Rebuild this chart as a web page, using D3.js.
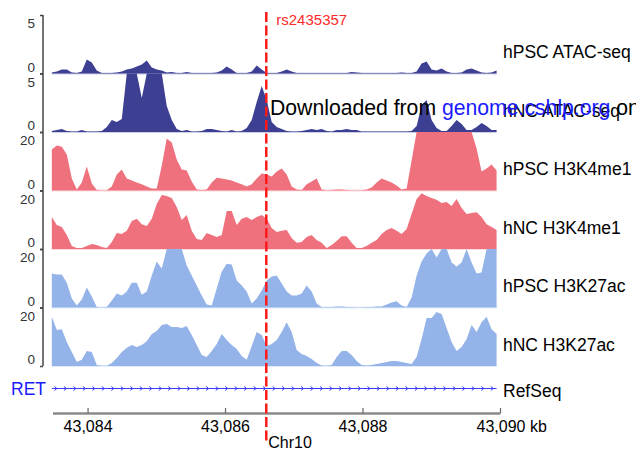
<!DOCTYPE html>
<html><head><meta charset="utf-8">
<script src="https://cdn.jsdelivr.net/npm/d3@7"></script>
<style>
html,body{margin:0;padding:0;background:#fff;}
svg{display:block;font-family:"Liberation Sans",Arial,Helvetica,sans-serif;}
</style></head>
<body><svg id="chart" width="636" height="453"></svg>
<script>
// ---- data ----
const chromosome = "Chr10";
const binStartKb = 43083.48;   // genomic start of first bin (kb)
const binSizeKb = 0.0727;      // bin size (kb)
const axisDomainKb = [43083.49, 43090];
const axisTicksKb = [43084, 43086, 43088, 43090];
const snpName = "rs2435357";
const snpKb = 43086.6;
const geneName = "RET";
const trackNames = ["hPSC ATAC-seq", "hNC ATAC-seq", "hPSC H3K4me1", "hNC H3K4me1", "hPSC H3K27ac", "hNC H3K27ac"];
const trackMax = [5, 5, 20, 20, 20, 20];

const hpscAtac = [0.09,0.17,0.34,0.34,0.09,0.04,0.17,1.2,0.94,0.26,
 0.04,0.04,0.04,0.09,0.17,0.34,0.43,0.6,0.77,1.11,
 0.51,0.34,0.26,0.09,0.13,0.04,0.04,0.13,0.04,0.04,
 0.04,0.04,0.04,0.09,0.26,0.6,0.34,0.04,0.04,0.04,
 0.17,0.68,0.34,0.04,0.04,0.04,0.17,0.34,0.17,0.04,
 0.04,0.04,0.04,0.04,0.04,0.04,0.04,0.04,0.04,0.04,
 0.13,0.09,0.04,0.04,0.04,0.04,0.04,0.04,0.04,0.04,
 0.09,0.04,0.04,0.17,0.85,1.03,0.34,0.26,0.43,0.17,
 0.04,0.04,0.09,0.34,0.43,0.26,0.09,0.04,0.09,0.26];

const hncAtac = [0.09,0.17,0.26,0.09,0.04,0.04,0.17,0.04,0.04,0.04,
 0.09,0.43,1.03,0.85,1.11,6.5,6.8,6.2,2.9,6.5,
 7.0,6.6,6.0,2.22,1.03,0.26,0.09,0.17,0.04,0.04,
 0.09,0.26,0.26,0.17,0.09,0.04,0.17,0.04,0.09,0.34,
 1.03,2.56,3.93,2.74,0.85,0.43,0.26,0.09,0.04,0.04,
 0.09,0.17,0.26,0.17,0.26,0.09,0.04,0.17,0.17,0.26,
 0.17,0.17,0.04,0.04,0.04,0.04,0.04,0.04,0.04,0.04,
 0.04,0.04,0.09,0.51,2.31,2.74,1.03,0.34,0.09,0.09,
 0.51,1.03,0.68,0.17,0.17,0.43,0.77,0.51,0.17,0.17];

const hpscH3k4me1 = [14.0,15.4,15.0,12.3,4.1,0.3,2.7,8.2,2.4,0.2,
 0.1,0.1,1.4,5.5,7.2,4.1,3.4,2.7,2.1,1.4,
 0.7,0.7,8.5,17.8,16.4,10.6,7.2,6.8,3.1,0.3,
 0.2,0.3,2.7,4.4,4.1,3.8,3.4,2.7,2.1,1.4,
 2.1,4.1,5.8,5.5,4.8,6.5,7.5,5.5,1.4,0.3,
 0.2,2.1,3.1,4.1,0.3,0.1,0.2,0.3,0.3,0.2,
 0.1,0.1,0.1,0.3,1.0,2.7,4.1,3.4,2.7,1.7,
 0.3,0.7,10.3,23,24,23,25,24,22,23,
 24,25,23,24,23,14.4,6.5,7.5,8.9,6.8];

const hncH3k4me1 = [10.9,8.2,7.5,4.8,1.0,0.3,0.3,1.0,1.7,1.4,
 0.7,0.3,2.4,5.5,5.1,6.2,9.6,10.3,8.5,7.9,
 10.3,15.4,18.5,18.1,17.4,14.4,9.9,11.6,6.2,3.4,
 3.1,5.5,4.8,4.1,4.8,13.0,13.0,8.2,10.3,10.9,
 9.9,10.9,11.6,10.3,7.2,5.8,6.2,6.5,3.8,2.1,
 2.4,4.1,4.8,3.1,2.1,0.3,1.4,2.7,4.4,4.4,
 2.1,0.3,0.3,1.0,2.1,3.1,5.1,6.5,7.2,6.2,
 5.1,6.8,12.0,17.1,19.1,18.1,17.4,16.8,15.7,16.1,
 14.7,17.1,14.0,12.0,12.3,12.6,10.9,8.5,7.5,6.5];

const hpscH3k27ac = [11.6,11.3,11.3,8.5,3.1,0.7,2.7,6.8,3.8,0.2,
 0.1,0.2,2.4,4.8,4.1,5.5,8.5,8.5,4.4,5.5,
 10.9,15.7,13.3,21.2,22.6,21.9,20.5,14.4,10.9,7.5,
 4.1,1.0,0.7,6.5,12.3,15.0,14.7,9.2,7.5,5.5,
 1.4,3.1,5.8,9.2,10.6,10.9,8.2,5.5,4.1,4.1,
 4.8,7.5,5.5,1.4,0.2,0.2,0.2,0.3,0.3,0.2,
 0.2,0.1,0.1,0.2,0.2,0.3,0.3,1.0,1.7,2.1,
 0.7,0.2,3.4,10.9,15.7,18.5,20.5,17.1,21.2,20.5,
 15.4,14.0,15.4,20.5,15.4,11.6,12.0,21.2,21.9,21.5];

const hncH3k27ac = [16.8,12.3,12.6,8.2,4.8,1.4,2.1,5.1,4.8,0.3,
 0.1,0.1,1.0,2.7,4.8,6.2,7.2,6.5,7.2,8.5,
 10.9,12.0,14.0,14.4,13.3,13.3,13.0,13.7,10.6,7.2,
 3.8,3.1,5.1,7.5,10.9,8.9,7.2,5.8,3.4,2.1,
 6.8,11.6,10.6,6.8,7.5,8.9,11.6,15.0,11.6,5.5,
 4.1,3.4,2.4,1.0,0.2,0.1,0.3,3.1,5.1,5.1,
 3.8,1.7,0.3,0.2,0.3,0.7,1.0,1.4,1.7,1.7,
 1.4,1.0,0.7,3.1,9.2,16.4,16.4,18.5,17.8,13.0,
 8.2,5.1,6.5,9.2,14.0,11.6,15.0,16.8,12.6,10.9];

const trackValues = [hpscAtac, hncAtac, hpscH3k4me1, hncH3k4me1, hpscH3k27ac, hncH3k27ac];

// ---- styles ----
const trackColors = ["#3d3f93", "#3d3f93", "#f0717e", "#f0717e", "#93b3e9", "#93b3e9"];
const svg = d3.select("#chart");

const x = d3.scaleLinear().domain(axisDomainKb).range([52.5, 500]);
const trackY = d3.scaleLinear().domain([0, trackNames.length]).range([15, 366]);

// tracks
trackNames.forEach((name, i) => {
  const top = trackY(i), bottom = trackY(i + 1);
  const y = d3.scaleLinear().domain([0, trackMax[i]]).range([bottom, top]).clamp(true);
  const vals = trackValues[i];
  const area = d3.area()
    .x((d, j) => x(binStartKb + j * binSizeKb))
    .y0(bottom)
    .y1(d => y(d));
  svg.append("line")
    .attr("x1", x(binStartKb)).attr("x2", x(binStartKb + (vals.length - 1) * binSizeKb))
    .attr("y1", bottom).attr("y2", bottom)
    .attr("stroke", trackColors[i]).attr("stroke-opacity", 0.25).attr("stroke-width", 2);
  svg.append("path").datum(vals).attr("d", area).attr("fill", trackColors[i]);

  const ax = svg.append("g").attr("transform", "translate(43,0)")
    .call(d3.axisLeft(y).tickValues([0, trackMax[i]]).tickSize(3).tickPadding(5).tickFormat(d3.format("d")));
  ax.select(".domain").remove();
  ax.selectAll(".tick line").attr("stroke", "#444").attr("stroke-width", 1.5);
  ax.selectAll(".tick text")
    .attr("font-size", 13.5).attr("fill", "#333")
    .attr("font-family", "Liberation Sans, Arial, sans-serif")
    .attr("dy", d => d === 0 ? "-0.15em" : "0.95em");

  svg.append("text").attr("x", 503).attr("y", bottom - 15.5)
    .attr("font-size", 17.5).attr("fill", "#000").text(name);
});

// left axis spine
svg.append("line").attr("x1", 43).attr("x2", 43).attr("y1", trackY(0)).attr("y2", trackY(trackNames.length))
  .attr("stroke", "#444").attr("stroke-width", 1.5);

// RefSeq gene track
const geneY = 388.5;
const geneStart = binStartKb, geneEnd = binStartKb + 89 * binSizeKb;
svg.append("line").attr("x1", x(geneStart)).attr("x2", x(geneEnd)).attr("y1", geneY).attr("y2", geneY)
  .attr("stroke", "#3a3aff").attr("stroke-width", 1);
const arrowKb = d3.range(geneStart + 0.06, geneEnd, 0.138);
svg.append("g").selectAll("path").data(arrowKb).join("path")
  .attr("d", d => `M${x(d) - 1.5},${geneY - 2}L${x(d) + 1},${geneY}L${x(d) - 1.5},${geneY + 2}`)
  .attr("fill", "none").attr("stroke", "#3a3aff").attr("stroke-width", 1);
svg.append("text").attr("x", 46).attr("y", geneY + 6.5).attr("text-anchor", "end")
  .attr("font-size", 17.5).attr("fill", "#1a1aff").text(geneName);
svg.append("text").attr("x", 503).attr("y", geneY + 8)
  .attr("font-size", 17.5).attr("fill", "#000").text("RefSeq");

// bottom genomic axis
const bx = svg.append("g").attr("transform", "translate(0,413)")
  .call(d3.axisBottom(x).tickValues(axisTicksKb).tickSizeInner(-5).tickSizeOuter(0).tickPadding(8)
    .tickFormat(d3.format(",d")));
bx.select(".domain").attr("stroke", "#8a8a8a").attr("stroke-width", 2.5);
bx.selectAll(".tick line").attr("stroke", "#666").attr("stroke-width", 1.2);
bx.selectAll(".tick text").attr("font-size", 16).attr("fill", "#000")
  .attr("font-family", "Liberation Sans, Arial, sans-serif");
const lastTick = bx.selectAll(".tick text").filter(d => d === axisTicksKb[axisTicksKb.length - 1]);
lastTick.append("tspan").text("\u00a0kb");
lastTick.attr("text-anchor", "start").attr("x", -24);
svg.append("text").attr("x", 290).attr("y", 448).attr("text-anchor", "middle")
  .attr("font-size", 16).attr("fill", "#000").text(chromosome);

// SNP line
svg.append("line").attr("x1", x(snpKb)).attr("x2", x(snpKb)).attr("y1", 12).attr("y2", 444)
  .attr("stroke", "#ff1a1a").attr("stroke-width", 2.5).attr("stroke-dasharray", "10,3.5");
svg.append("text").attr("x", x(snpKb) + 10).attr("y", 25)
  .attr("font-size", 15).attr("fill", "#ff2a2a").text(snpName);

// watermark (overlaps the hNC ATAC-seq label, as in the original figure)
const wm = svg.append("text").attr("x", 270).attr("y", 115).attr("font-size", 21.2).attr("fill", "#000");
wm.append("tspan").text("Downloaded from ");
wm.append("tspan").attr("fill", "#1a1aff").text("genome.cshlp.org");
wm.append("tspan").text(" on");
</script></body></html>
